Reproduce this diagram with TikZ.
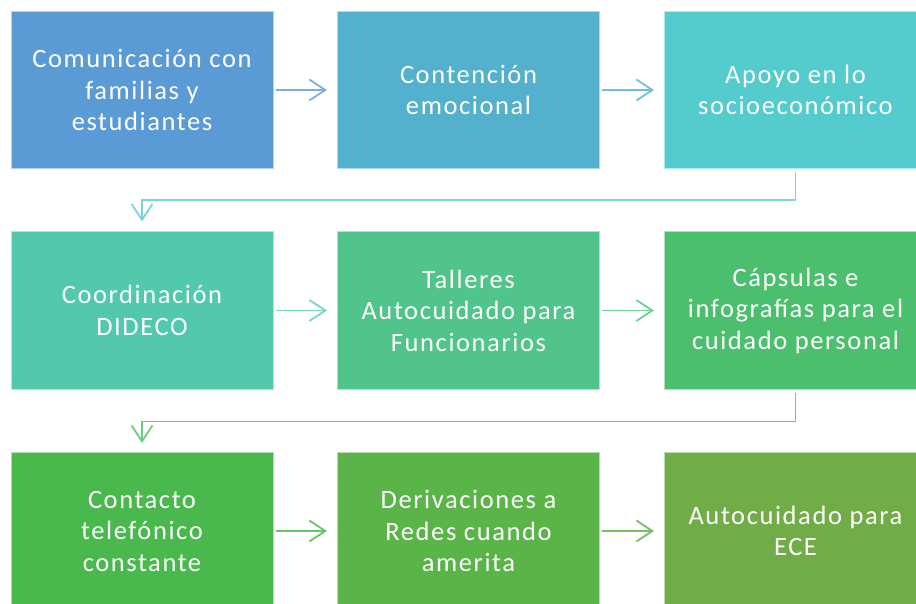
\documentclass[tikz,border=0pt]{standalone}
\usepackage{fontspec}
\setmainfont[LetterSpace=6]{Carlito}
\usetikzlibrary{arrows.meta}
\definecolor{cA}{RGB}{91,155,213}
\definecolor{cB}{RGB}{83,177,205}
\definecolor{cC}{RGB}{84,203,204}
\definecolor{cD}{RGB}{82,201,173}
\definecolor{cE}{RGB}{80,196,138}
\definecolor{cF}{RGB}{75,191,110}
\definecolor{cG}{RGB}{73,185,77}
\definecolor{cH}{RGB}{90,180,71}
\definecolor{cI}{RGB}{112,173,71}
\definecolor{aA}{RGB}{125,175,222}
\definecolor{aB}{RGB}{112,192,216}
\definecolor{aC}{RGB}{120,215,214}
\definecolor{aD}{RGB}{120,214,190}
\definecolor{aE}{RGB}{112,208,150}
\definecolor{aF}{RGB}{110,205,125}
\definecolor{aG}{RGB}{102,196,102}
\definecolor{aH}{RGB}{122,190,100}
\tikzset{
  stepbox/.style={rectangle, fill=#1, draw=white!55!#1, line width=1pt,
    minimum width=262pt, minimum height=157pt, inner sep=0pt,
    text=white, align=center,
    font=\fontsize{26.5}{31.5}\selectfont},
  flow/.style={draw=#1, line width=1.8pt,
    -{Straight Barb[length=16pt,width=21pt,line width=1.8pt]}},
}
\begin{document}
\begin{tikzpicture}[x=1pt,y=-1pt]
\useasboundingbox (0,0) rectangle (916,604);
\clip (0,0) rectangle (916,604);
\node[stepbox=cA] (b1) at (142,90) {Comunicación con\\familias y\\estudiantes};
\node[stepbox=cB] (b2) at (468.5,90) {Contención\\emocional};
\node[stepbox=cC] (b3) at (795.5,90) {Apoyo en lo\\socioeconómico};
\node[stepbox=cD] (b4) at (142,310.5) {Coordinación\\DIDECO};
\node[stepbox=cE] (b5) at (468.5,310.5) {Talleres\\Autocuidado para\\Funcionarios};
\node[stepbox=cF] (b6) at (795.5,310.5) {Cápsulas e\\infografías para el\\cuidado personal};
\node[stepbox=cG] (b7) at (142,531) {Contacto\\telefónico\\constante};
\node[stepbox=cH] (b8) at (468.5,531) {Derivaciones a\\Redes cuando\\amerita};
\node[stepbox=cI] (b9) at (795.5,531) {Autocuidado para\\ECE};

\draw[flow=aA, shorten <=2pt, shorten >=10pt] (b1.east) -- (b2.west);
\draw[flow=aB, shorten <=2pt, shorten >=10pt] (b2.east) -- (b3.west);
\draw[flow=aD, shorten <=2pt, shorten >=10pt] (b4.east) -- (b5.west);
\draw[flow=aE, shorten <=2pt, shorten >=10pt] (b5.east) -- (b6.west);
\draw[flow=aG, shorten <=2pt, shorten >=10pt] (b7.east) -- (b8.west);
\draw[flow=aH, shorten <=2pt, shorten >=10pt] (b8.east) -- (b9.west);

\draw[flow=aC, shorten <=3pt, shorten >=10pt] (b3.south) -- ++(0,31) -| (b4.north);
\draw[flow=aF, shorten <=3pt, shorten >=9pt] (b6.south) -- ++(0,32) -| (b7.north);
\end{tikzpicture}
\end{document}
